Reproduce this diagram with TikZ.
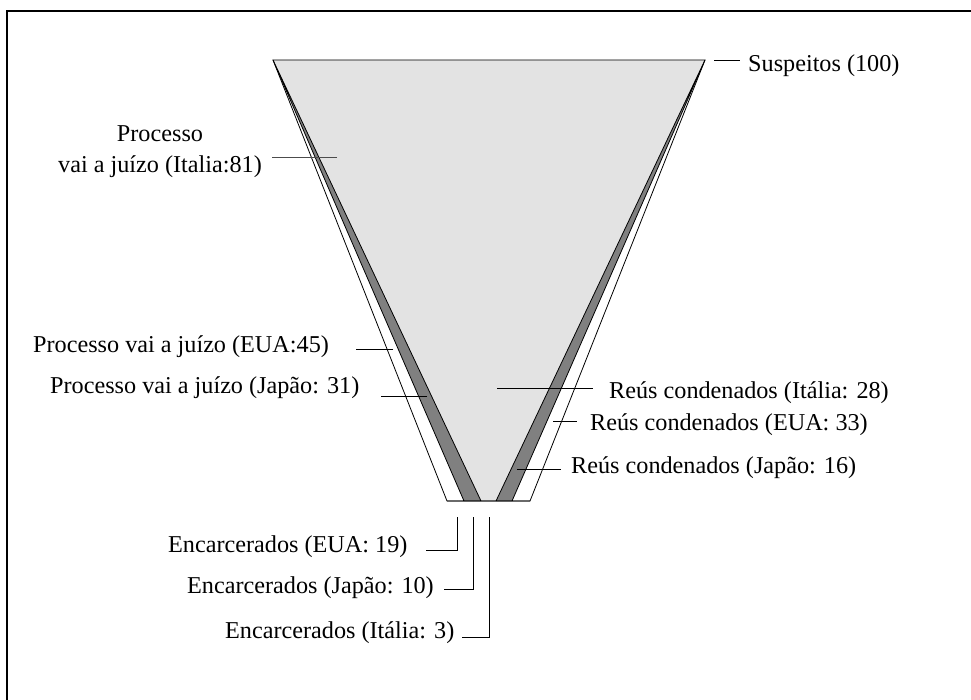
\documentclass[tikz,border=0pt]{standalone}
\usepackage{fontspec}
\setmainfont{Liberation Serif}
\definecolor{lightg}{HTML}{E3E3E3}
\definecolor{darkg}{HTML}{808080}
\begin{document}
\begin{tikzpicture}[x=1pt,y=-1pt,
  lbl/.style={inner sep=0pt, anchor=west, font=\fontsize{24.2}{31}\selectfont},
  lead/.style={line width=0.9pt, black},
  edgeline/.style={line width=0.8pt, black, line join=miter}]
\useasboundingbox (0,0) rectangle (971,700);
\fill[white] (0,0) rectangle (971,700);
% frame (only top and left visible)
\draw[line width=1.6pt] (7,720) -- (7,11) -- (990,11);
% funnel corners
\coordinate (TL) at (273,60);
\coordinate (TR) at (705,60);
\coordinate (B1) at (447,501);
\coordinate (B2) at (464,501);
\coordinate (B3) at (481,501);
\coordinate (B4) at (496,501);
\coordinate (B5) at (512,501);
\coordinate (B6) at (530,501);
\fill[lightg] (TL) -- (TR) -- (B4) -- (B3) -- cycle;
\fill[darkg] (TL) -- (B3) -- (B2) -- cycle;
\fill[darkg] (TR) -- (B4) -- (B5) -- cycle;
\draw[edgeline] (TL) -- (TR) -- (B6) -- (B1) -- cycle;
\draw[edgeline] (TL) -- (B2) (TL) -- (B3) (TR) -- (B4) (TR) -- (B5) (B1) -- (B6);
% labels
\node[lbl] (sus) at (748,66) {Suspeitos (100)};
\node[lbl, anchor=center, align=center] (ita81) at (160,152) {Processo\\vai a juízo (Italia:81)};
\node[lbl] (eua45) at (33,347) {Processo vai a juízo (EUA:45)};
\node[lbl] (jap31) at (50,388) {Processo vai a juízo (Japão: 31)};
\node[lbl] (ita28) at (609,393) {Reús condenados (Itália: 28)};
\node[lbl] (eua33) at (590,425) {Reús condenados (EUA: 33)};
\node[lbl] (jap16) at (571,468) {Reús condenados (Japão: 16)};
\node[lbl] (enc19) at (168,547) {Encarcerados (EUA: 19)};
\node[lbl] (enc10) at (187,588) {Encarcerados (Japão: 10)};
\node[lbl] (enc3) at (225,633) {Encarcerados (Itália: 3)};
% leader ends
\coordinate (susA) at (714,60);
\coordinate (ita81A) at (337,157);
\coordinate (eua45A) at (393,349);
\coordinate (jap31A) at (427,396);
\coordinate (ita28A) at (497,388);
\coordinate (eua33A) at (553,421);
\coordinate (jap16A) at (517,469);
\coordinate (enc19A) at (457,517);
\coordinate (enc10A) at (473,517);
\coordinate (enc3A) at (489,517);
% leaders
\draw[lead, shorten >=8pt] (susA) -- (susA -| sus.west);
\draw[lead, black!70, shorten >=10pt] (ita81A) -- (ita81A -| ita81.east);
\draw[lead, shorten >=27pt] (eua45A) -- (eua45A -| eua45.east);
\draw[lead, shorten >=21pt] (jap31A) -- (jap31A -| jap31.east);
\draw[lead, shorten >=16pt] (ita28A) -- (ita28A -| ita28.west);
\draw[lead, shorten >=13pt] (eua33A) -- (eua33A -| eua33.west);
\draw[lead, shorten >=10pt] (jap16A) -- (jap16A -| jap16.west);
\draw[lead, shorten >=18pt] (enc19A) |- ([yshift=-3pt]enc19.east);
\draw[lead, shorten >=10pt] (enc10A) |- ([yshift=-1pt]enc10.east);
\draw[lead, shorten >=8pt] (enc3A) |- ([yshift=-4pt]enc3.east);
\end{tikzpicture}
\end{document}
